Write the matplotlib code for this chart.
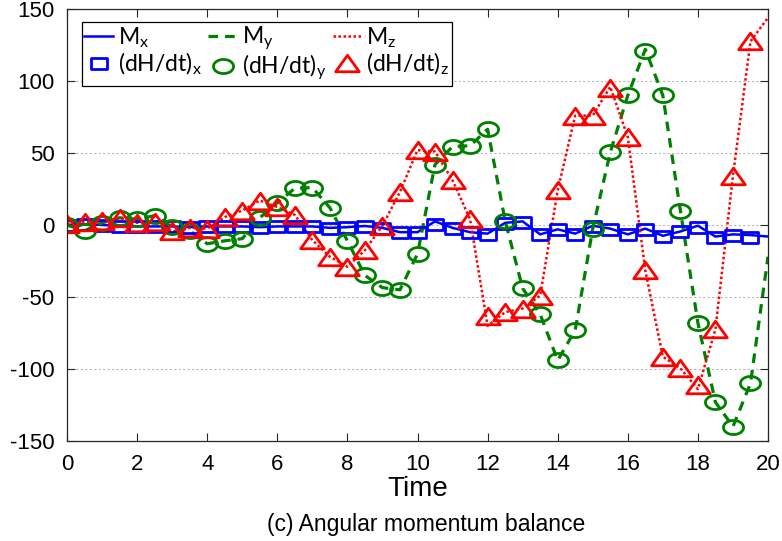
import matplotlib
matplotlib.use("Agg")
import matplotlib.pyplot as plt
import numpy as np
from matplotlib.path import Path

# sample times of the markers (every 0.5 s) and of the lines (to t = 20)
t_marks = np.arange(0, 19.75, 0.5)
t_line = np.arange(0, 20.25, 0.5)

dHx = [0, 0.5, 0, -0.5, -1, -1, -1, -1.5, -1, -1,
       -1, -1.5, -1, -1, -1, -2, -1.5, -0.7, -2, -5,
       -5, 1, -2, -5, -6, 1.5, 2, -6.5, -3, -6,
       -1, -2.5, -6.5, -3, -7.5, -4.5, -1.5, -8, -7, -8]
dHy = [0, -4, 1.5, 5, 4, 6.5, -1.5, -4, -13, -11,
       -9.5, 5, 15.5, 25.5, 26, 12, -11, -35, -43.5, -45,
       -20, 42, 54.5, 55, 66.5, 3, -44, -62, -94, -73,
       -2.5, 50.5, 90, 121, 90, 10, -68, -123, -140, -110]
dHz = [1, 2, 2.5, 5, 1.5, 2, -4.5, -2, -2.5, 5.5,
       10, 17, 12.5, 7, -10.5, -22, -29, -17.5, -0.5, 23,
       52, 51, 31, 4, -63, -60.5, -58, -49, 24, 76,
       76, 95, 61, -31.5, -91.5, -99.5, -111, -72.5, 34, 127.5]

Mx = [0, 0.5, 0, -0.5, -1, -1, -1, -1.5, -1, -1,
      -1, -1.5, -1, -1, -1, -2, -1.5, -0.7, -2, -5,
      -5, 2.5, -2, -5, -6, 1.5, 2.5, -6.5, -3, -6,
      -0.5, -2.5, -6.5, -2.5, -7.5, -4.5, -0.5, -8, -6.5, -7, -8]
My = [0, -4, 1.5, 5, 4, 6.5, -1.5, -4, -13, -11,
      -9.5, 5, 15.5, 25.5, 26, 12, -11, -35, -43.5, -45,
      -20, 42, 54.5, 55, 66.5, 3, -44, -62, -94, -73,
      -2.5, 50.5, 90, 122, 90, 10, -68, -123, -140, -110, -22]
Mz = [1, 2, 2.5, 5, 1.5, 2, -4.5, -2, -2.5, 5.5,
      10, 17, 12.5, 7, -10.5, -22, -29, -17.5, -0.5, 23,
      52, 51, 31, 4, -70, -60.5, -58, -49, 24, 76,
      76, 96, 61, -31.5, -91.5, -99.5, -114, -72.5, 34, 127.5, 144]

y_ticks = [-150, -100, -50, 0, 50, 100, 150]
x_ticks = [0, 2, 4, 6, 8, 10, 12, 14, 16, 18, 20]

tick_font = ["Liberation Sans", "DejaVu Sans"]
legend_font = ["Lato", "DejaVu Sans"]

blue = (0, 0, 1)
green = (0, 0.5, 0)
red = (1, 0, 0)

# the markers in the picture are wider than tall, so use flattened shapes
ang = np.linspace(0, 2 * np.pi, 41)
ellipse = Path(np.column_stack([np.cos(ang), 0.7 * np.sin(ang)]), closed=True)
wide_tri = Path([(0, 0.7), (-1, -0.7), (1, -0.7), (0, 0.7)], closed=True)
wide_sq = Path([(-1, -0.72), (1, -0.72), (1, 0.72), (-1, 0.72), (-1, -0.72)],
               closed=True)

fig = plt.figure(figsize=(7.82, 5.41), dpi=100)
ax = fig.add_axes([67 / 782, 1 - 441 / 541, 701 / 782, 432 / 541])

l_mx, = ax.plot(t_line, Mx, color=blue, lw=1.8, label=r"M$_\mathregular{x}$")
l_my, = ax.plot(t_line, My, color=green, lw=2.3, linestyle=(0, (3, 2.2)),
                label=r"M$_\mathregular{y}$")
l_mz, = ax.plot(t_line, Mz, color=red, lw=1.8, linestyle=(0, (1, 1)),
                label=r"M$_\mathregular{z}$")

p_x, = ax.plot(t_marks, dHx, marker=wide_sq, ls="none", ms=11, mfc="none",
               mec=blue, mew=2, label=r"(dH/dt)$_\mathregular{x}$")
p_y, = ax.plot(t_marks, dHy, marker=ellipse, ls="none", ms=14.5, mfc="none",
               mec=green, mew=2, label=r"(dH/dt)$_\mathregular{y}$")
p_z, = ax.plot(t_marks, dHz, marker=wide_tri, ls="none", ms=17, mfc="none",
               mec=red, mew=2, label=r"(dH/dt)$_\mathregular{z}$")

ax.set_xlim(0, 20)
ax.set_ylim(-150, 150)
ax.set_xticks(x_ticks)
ax.set_yticks(y_ticks)
ax.set_xticklabels([str(v) for v in x_ticks], family=tick_font, fontsize=16)
ax.set_yticklabels([str(v) for v in y_ticks], family=tick_font, fontsize=16)
ax.tick_params(direction="in", length=6, width=0.8, top=True, right=True,
               colors=(0.15, 0.15, 0.15), labelcolor="black")
ax.tick_params(axis="x", pad=9)
ax.tick_params(axis="y", pad=9)
for s in ax.spines.values():
    s.set_color((0.15, 0.15, 0.15))
    s.set_linewidth(0.9)
ax.yaxis.grid(True, color=(0.72, 0.72, 0.72), linestyle=(0, (2, 2)), lw=0.8)
ax.set_axisbelow(True)

ax.set_xlabel("Time", family=tick_font, fontsize=20, labelpad=1)

# legend: first row lines, second row markers (ncol fills column-wise)
handles = [l_mx, p_x, l_my, p_y, l_mz, p_z]
leg = ax.legend(handles, [h.get_label() for h in handles],
                ncol=3, loc="upper left", bbox_to_anchor=(0.021, 0.97),
                borderaxespad=0, fancybox=False, framealpha=1,
                edgecolor="black", handlelength=1.25, handletextpad=0.2,
                columnspacing=0.3, labelspacing=0.0, borderpad=0.12,
                prop={"family": legend_font, "size": 16.5})
leg.get_frame().set_linewidth(0.9)

fig.text(0.545, 1 - 524 / 541, "(c) Angular momentum balance",
         ha="center", va="center", family=tick_font, fontsize=16.5)

fig.savefig("out.png", dpi=100)
